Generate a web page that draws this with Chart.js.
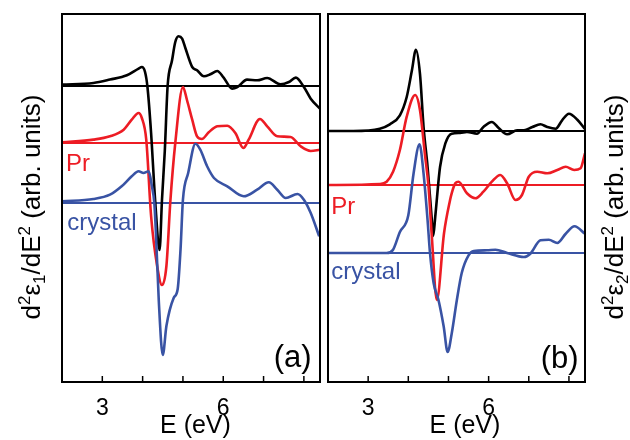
<!DOCTYPE html>
<html>
<head>
<meta charset="utf-8">
<script src="https://cdn.jsdelivr.net/npm/chart.js@4/dist/chart.umd.min.js"></script>
<style>
  body { margin: 0; background: #fff; }
  #wrap { position: relative; width: 630px; height: 440px; }
  #wrap canvas { position: absolute; top: 0; }
  #graficoA { left: 0; }
  #graficoB { left: 322px; }
</style>
</head>
<body>
<div id="wrap">
  <canvas id="graficoA" width="322" height="440"></canvas>
  <canvas id="graficoB" width="308" height="440"></canvas>
</div>
<script>
// E (eV) and second derivative (arb. units, relative to each trace's own zero line)
// panel (a): d2eps1/dE2
const aBlackE = [2.0, 2.78, 3.19, 3.61, 3.90, 3.98, 4.06, 4.12, 4.21, 4.31, 4.42, 4.48, 4.55, 4.62, 4.73, 4.81, 4.89, 4.98, 5.06, 5.23, 5.35, 5.52, 5.68, 5.85, 6.01, 6.22, 6.35, 6.59, 6.84, 7.09, 7.42, 7.63, 7.80, 8.0, 8.17, 8.40];
const aBlackV = [0.14, 0.3, 0.64, 1.07, 1.74, 1.9, 1.4, -0.1, -4.7, -11.4, -16.4, -11.4, -6.5, 0, 2.57, 4.4, 4.97, 4.74, 3.8, 1.9, 1.57, 0.97, 1.17, 1.5, 0.84, -0.26, -0.1, 0.64, 0.57, 0.8, 0.17, 0.4, 0.84, -0.1, -1.27, -2.27];
const aRedE = [2.0, 2.78, 3.19, 3.53, 3.73, 3.90, 3.98, 4.09, 4.21, 4.36, 4.48, 4.59, 4.69, 4.81, 5.0, 5.10, 5.23, 5.35, 5.47, 5.64, 5.85, 6.10, 6.30, 6.50, 6.63, 6.91, 7.09, 7.34, 7.67, 7.92, 8.17, 8.40];
const aRedV = [0.07, 0.34, 0.67, 1.33, 2.33, 3.0, 2.5, 0.33, -7.3, -12.3, -14.2, -12.3, -5.7, 0, 5.6, 4.3, 2.33, 0.67, 0.4, 1.07, 1.67, 1.73, 1.0, -0.5, 0.33, 2.4, 1.67, 0.67, 0.6, -0.33, -0.8, -0.67];
const aBlueE = [2.0, 2.78, 3.19, 3.48, 3.73, 3.90, 4.02, 4.15, 4.23, 4.29, 4.33, 4.40, 4.50, 4.59, 4.77, 4.87, 4.94, 5.0, 5.13, 5.31, 5.43, 5.60, 5.77, 6.10, 6.51, 6.84, 7.13, 7.34, 7.55, 7.84, 8.0, 8.17, 8.38];
const aBlueV = [0.17, 0.4, 0.83, 1.67, 2.67, 3.17, 3.0, 3.17, 1.67, 0, -3.0, -9.7, -15.2, -12.3, -9.5, -8.6, -4.67, 0.33, 3.0, 5.93, 5.33, 3.67, 2.5, 1.67, 0.67, 1.33, 2.07, 1.33, 0.5, 0.9, 0.33, -1.0, -3.33];

// panel (b): d2eps2/dE2
const bBlackE = [2.0, 2.63, 3.29, 3.54, 3.79, 3.96, 4.09, 4.19, 4.29, 4.38, 4.48, 4.58, 4.62, 4.67, 4.79, 4.92, 5.08, 5.29, 5.46, 5.71, 5.87, 6.08, 6.25, 6.46, 6.71, 6.88, 7.09, 7.29, 7.46, 7.67, 7.83, 8.0, 8.21, 8.39];
const bBlackV = [0, 0, 0.23, 0.67, 1.57, 3.4, 6.07, 8.13, 5.73, 0.4, -3.6, -8.6, -10.5, -8.6, -3.6, -1.27, -0.27, -0.2, -0.1, -0.27, 0.4, 0.9, 0.3, -0.33, 0.07, 0.07, 0.4, 0.67, 0.4, 0.23, 1.07, 1.73, 1.13, 0.23];
const bRedE = [2.0, 3.29, 3.46, 3.62, 3.79, 3.96, 4.17, 4.29, 4.42, 4.50, 4.58, 4.71, 4.89, 5.04, 5.08, 5.17, 5.25, 5.46, 5.67, 5.87, 6.08, 6.29, 6.46, 6.67, 6.83, 7.0, 7.21, 7.46, 7.71, 7.92, 8.13, 8.29, 8.40];
const bRedV = [0, 0.1, 0.33, 1.33, 3.5, 6.83, 9.0, 7.5, 2.83, 0, -4.8, -11.5, -4.8, -1.5, -0.83, 0.17, 0.33, -0.83, -1.33, -0.67, 0.33, 1.0, 0.17, -1.5, -1.0, 0.83, 1.33, 1.17, 1.5, 1.83, 1.5, 1.67, 3.17];
const bBlueE = [2.0, 3.46, 3.62, 3.79, 4.0, 4.13, 4.28, 4.38, 4.48, 4.54, 4.63, 4.75, 4.88, 4.98, 5.08, 5.21, 5.33, 5.50, 5.63, 5.96, 6.17, 6.46, 6.88, 7.04, 7.29, 7.5, 7.71, 7.92, 8.14, 8.40];
const bBlueV = [0, 0, 0.33, 2.1, 3.77, 7.93, 10.87, 7.93, 3.27, 0, -3.0, -4.67, -7.33, -9.9, -8.07, -4.67, -2.0, -0.23, 0.2, 0.27, 0.33, 0, -0.4, -0.07, 1.27, 1.33, 1.0, 1.93, 2.67, 1.93];

// vertical offsets of the traces [black, red, blue]
const offsetsA = [29.6, 23.9, 17.9];
const offsetsB = [25.1, 19.7, 12.9];

const xTicks = [3, 4, 5, 6, 7, 8];
const xTickLabels = [3, 6];
const xMin = 2, xMax = 8.4;
const yMin = 0, yMax = 36.8;

const PRETO = '#000000';
const VERMELHO = '#ED1C24';
const AZUL = '#3953A4';
const FONTE = "'Liberation Sans', Arial, sans-serif";

function pontos(E, V, off) {
    return E.map((e, i) => ({ x: e, y: V[i] + off }));
}

function montarDatasets(curvas, offsets) {
    const cores = [PRETO, VERMELHO, AZUL];
    const linhas = curvas.map((c, i) => ({
        data: pontos(c[0], c[1], offsets[i]),
        borderColor: cores[i],
        borderWidth: 2.6,
        pointRadius: 0,
        cubicInterpolationMode: 'monotone',
        order: 3 - i
    }));
    const zeros = offsets.map((off, i) => ({
        data: [{ x: xMin, y: off }, { x: xMax, y: off }],
        borderColor: cores[i],
        borderWidth: 2,
        pointRadius: 0,
        order: 10
    }));
    return linhas.concat(zeros);
}

// draws rotated title with real super/subscripts
function tituloY(ctx, cx, cy, sub) {
    const partes = [['d', 0], ['2', 1], ['\u03B5', 0], [sub, -1], ['/dE', 0], ['2', 1], [' (arb. units)', 0]];
    const grande = '26px ' + FONTE, pequeno = '17px ' + FONTE;
    ctx.save();
    ctx.translate(cx, cy);
    ctx.rotate(-Math.PI / 2);
    ctx.fillStyle = '#000';
    ctx.textBaseline = 'alphabetic';
    ctx.textAlign = 'left';
    let total = 0;
    partes.forEach(p => { ctx.font = p[1] ? pequeno : grande; total += ctx.measureText(p[0]).width; });
    let x = -total / 2;
    partes.forEach(p => {
        ctx.font = p[1] ? pequeno : grande;
        const dy = p[1] === 1 ? -10 : (p[1] === -1 ? 5 : 0);
        ctx.fillText(p[0], x, 9 + dy);
        x += ctx.measureText(p[0]).width;
    });
    ctx.restore();
}

const molduraPlugin = {
    id: 'moldura',
    afterDraw(chart, args, opts) {
        const { ctx, chartArea: ca, scales } = chart;
        const sx = scales.x, sy = scales.y;
        ctx.save();
        ctx.strokeStyle = '#000';
        ctx.lineWidth = 2;
        ctx.strokeRect(ca.left, ca.top, ca.right - ca.left, ca.bottom - ca.top);
        ctx.lineWidth = 1.5;
        xTicks.forEach(v => {
            const x = sx.getPixelForValue(v);
            ctx.beginPath();
            ctx.moveTo(x, ca.bottom);
            ctx.lineTo(x, ca.bottom - 6);
            ctx.stroke();
        });
        // labels inside the frame
        ctx.textBaseline = 'alphabetic';
        opts.textos.forEach(t => {
            ctx.font = t.tamanho + 'px ' + FONTE;
            ctx.fillStyle = t.cor;
            ctx.textAlign = t.alinhar || 'left';
            ctx.fillText(t.texto, sx.getPixelForValue(t.x), sy.getPixelForValue(t.y));
        });
        // x title
        ctx.font = '25px ' + FONTE;
        ctx.fillStyle = '#000';
        ctx.textAlign = 'center';
        ctx.fillText('E (eV)', sx.getPixelForValue(opts.tituloX), ca.bottom + 51);
        // y title
        const cy = 207;
        if (opts.lado === 'esquerda') tituloY(ctx, ca.left - 31, cy, '1');
        else tituloY(ctx, ca.right + 29, cy, '2');
        ctx.restore();
    }
};

function gerarGrafico(canvasId, curvas, offsets, padding, extras) {
    const ctx = document.getElementById(canvasId).getContext('2d');
    return new Chart(ctx, {
        type: 'line',
        data: { datasets: montarDatasets(curvas, offsets) },
        options: {
            responsive: false,
            animation: false,
            layout: { padding: padding },
            plugins: {
                legend: { display: false },
                tooltip: { enabled: false },
                moldura: extras
            },
            scales: {
                x: {
                    type: 'linear',
                    min: xMin,
                    max: xMax,
                    afterBuildTicks: s => { s.ticks = xTicks.map(v => ({ value: v })); },
                    afterFit: s => { s.height = 58; },
                    grid: { display: false, drawTicks: false },
                    border: { display: false },
                    ticks: {
                        padding: 13,
                        color: '#000',
                        font: { family: FONTE, size: 23 },
                        maxRotation: 0,
                        autoSkip: false,
                        callback: v => xTickLabels.includes(v) ? String(v) : ''
                    }
                },
                y: { type: 'linear', min: yMin, max: yMax, display: false }
            }
        },
        plugins: [molduraPlugin]
    });
}

function exibirGraficos() {
    gerarGrafico('graficoA',
        [[aBlackE, aBlackV], [aRedE, aRedV], [aBlueE, aBlueV]], offsetsA,
        { top: 14, left: 62, right: 2, bottom: 0 },
        {
            lado: 'esquerda', tituloX: 5.31,
            textos: [
                { texto: 'Pr', x: 2.1, y: 21.1, tamanho: 24, cor: VERMELHO },
                { texto: 'crystal', x: 2.13, y: 15.2, tamanho: 24, cor: AZUL },
                { texto: '(a)', x: 7.72, y: 1.5, tamanho: 31, cor: PRETO, alinhar: 'center' }
            ]
        });
    gerarGrafico('graficoB',
        [[bBlackE, bBlackV], [bRedE, bRedV], [bBlueE, bBlueV]], offsetsB,
        { top: 14, left: 6, right: 45, bottom: 0 },
        {
            lado: 'direita', tituloX: 5.41,
            textos: [
                { texto: 'Pr', x: 2.08, y: 16.8, tamanho: 24, cor: VERMELHO },
                { texto: 'crystal', x: 2.08, y: 10.3, tamanho: 24, cor: AZUL },
                { texto: '(b)', x: 7.77, y: 1.4, tamanho: 31, cor: PRETO, alinhar: 'center' }
            ]
        });
}

document.addEventListener('DOMContentLoaded', exibirGraficos);
</script>
</body>
</html>
